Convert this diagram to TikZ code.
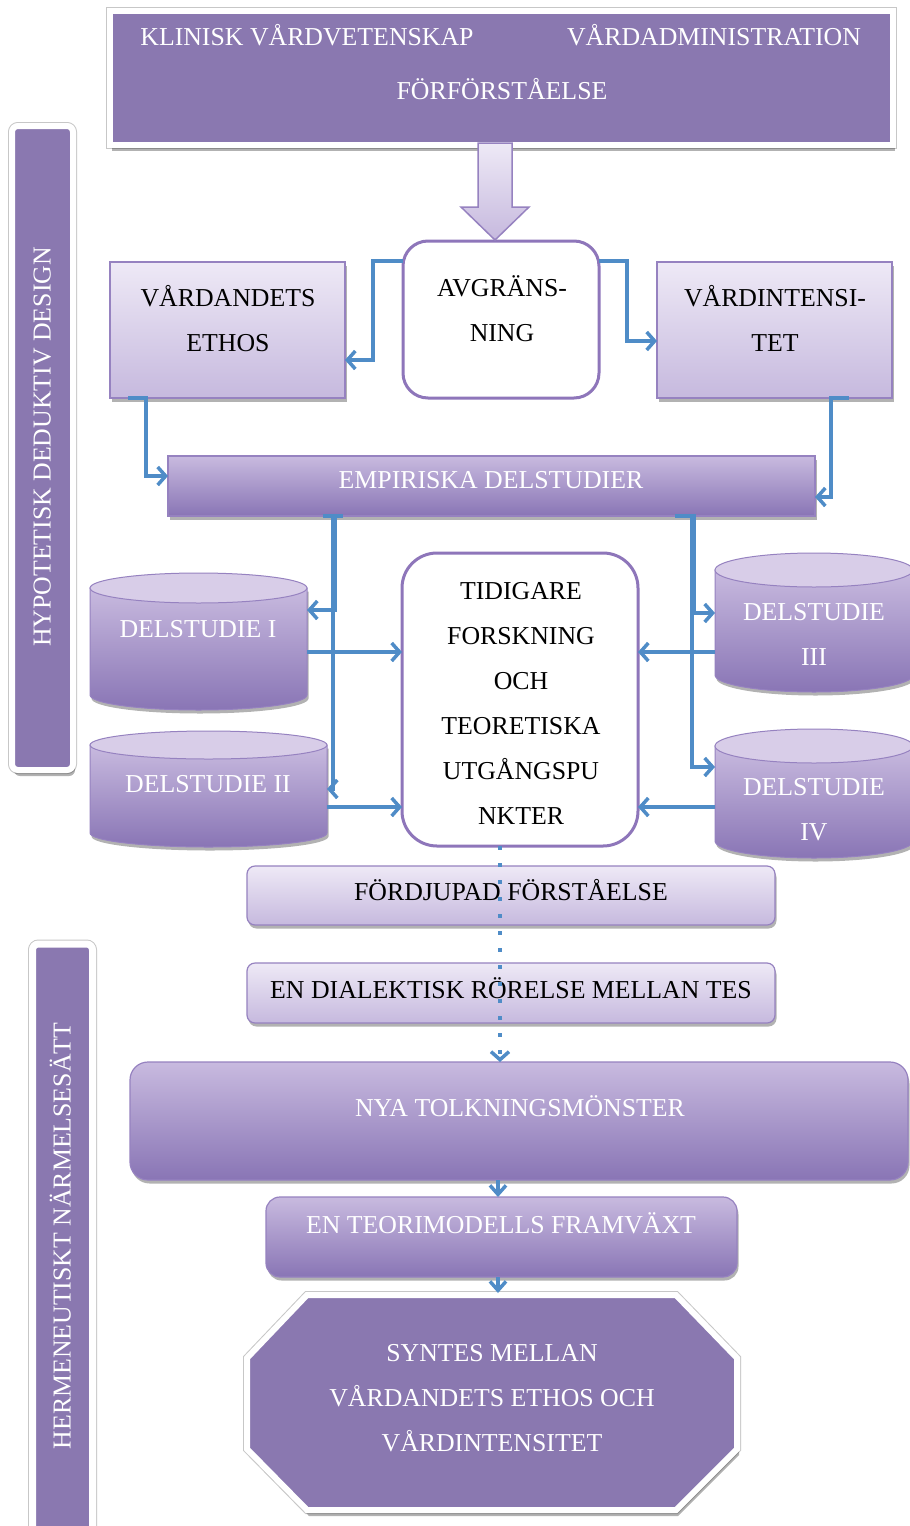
\documentclass[tikz,border=0pt]{standalone}
\usepackage{fontspec}
\setmainfont{Liberation Serif}
\usetikzlibrary{shadows,arrows.meta,calc}

\definecolor{purp}{RGB}{138,120,176}
\definecolor{lavT}{RGB}{238,233,246}
\definecolor{lavB}{RGB}{198,185,222}
\definecolor{midT}{RGB}{200,186,223}
\definecolor{midB}{RGB}{137,117,181}
\definecolor{edge}{RGB}{150,130,192}
\definecolor{edgeB}{RGB}{142,118,186}
\definecolor{capfill}{RGB}{216,205,232}
\definecolor{conblue}{RGB}{79,140,199}

\newcommand\bodyfont{\fontsize{25.8}{45}\selectfont}

% cylinder drawn over an invisible node that spans the body
\newcommand\drawdrum[3]{%
  \shade[cylbody] (#1.north west) -- (#1.south west)
    arc[start angle=180,end angle=360,x radius=#2pt,y radius=#3pt]
    -- (#1.north east) -- cycle;
  \draw[cylcap] (#1.north) ellipse[x radius=#2pt,y radius=#3pt];
}

\begin{document}
\begin{tikzpicture}[x=1pt,y=-1pt,
  every node/.style={inner sep=0pt,outer sep=0pt},
  shad/.style={drop shadow={shadow xshift=1.5pt,shadow yshift=-3.5pt,opacity=0.3,fill=black}},
  frameshad/.style={drop shadow={shadow xshift=2pt,shadow yshift=-6pt,opacity=0.3,fill=black}},
  framed/.style={preaction={draw=black!22,line width=8pt},draw=white,line width=6pt,fill=purp,frameshad},
  lightbox/.style={draw=edge,line width=1.2pt,top color=lavT,bottom color=lavB,shad},
  midbox/.style={draw=edge,line width=1.2pt,top color=midT,bottom color=midB,shad},
  whitebox/.style={draw=edgeB,line width=3pt,fill=white},
  cylbody/.style={draw=edge,line width=1pt,top color=midT,bottom color=midB,shad},
  cylcap/.style={draw=edge,line width=1pt,fill=capfill},
  conn/.style={draw=conblue,line width=3.5pt,-{Straight Barb[length=8pt,width=18pt]}},
  shortconn/.style={conn,-{Straight Barb[length=9pt,width=16pt]}},
  wtext/.style={text=white,font=\bodyfont,align=center},
  btext/.style={text=black,font=\bodyfont,align=center},
  oneline/.style={text height=17pt,text depth=0pt},
]
\useasboundingbox (0,0) rectangle (910,1526);
\fill[white] (0,0) rectangle (910,1526);

% side bars
\node[framed,rounded corners=6pt,minimum width=61,minimum height=644] (hyp) at (42.5,448) {};
\node[wtext,oneline,rotate=90] (hyp-t) at (42,447) {HYPOTETISK DEDUKTIV DESIGN};
\node[framed,preaction={draw=black!22,line width=9pt},line width=7pt,rounded corners=6pt,minimum width=60,minimum height=600] (her) at (62.5,1244) {};
\node[wtext,oneline,rotate=90] (her-t) at (62,1236) {HERMENEUTISKT NÄRMELSESÄTT};

% header
\node[framed,minimum width=783,minimum height=134] (top) at (501.5,78) {};
\node[wtext,oneline] (klin) at (307,37) {KLINISK VÅRDVETENSKAP};
\node[wtext,oneline] (adm) at (714,37) {VÅRDADMINISTRATION};
\node[wtext,oneline] (forf) at (502,91) {FÖRFÖRSTÅELSE};

% delimitation and its two branches
\node[whitebox,rounded corners=25pt,minimum width=196,minimum height=157] (avg) at (501,319.5) {};
\node[btext] (avg-t) at (502,309) {AVGRÄNS-\\NING};
\node[lightbox,minimum width=235,minimum height=136] (ethos) at (227.5,330) {};
\node[btext] (ethos-t) at (228,318.5) {VÅRDANDETS\\ETHOS};
\node[lightbox,minimum width=235,minimum height=136] (vint) at (774.5,330) {};
\node[btext] (vint-t) at (775,318.5) {VÅRDINTENSI-\\TET};

% block arrow from header down to the delimitation box
\draw[draw=edge,line width=1.5pt,top color=lavT,bottom color=lavB]
  ([xshift=-23.5pt,yshift=2pt]top.south) -- ++(34,0) -- ++(0,64) -- ++(17,0)
  -- ++(-34,33) -- ++(-34,-33) -- ++(17,0) -- cycle;

% empirical sub-studies bar
\node[midbox,minimum width=647,minimum height=60] (emp) at (491.5,486) {};
\node[wtext,oneline] (emp-t) at (491,480) {EMPIRISKA DELSTUDIER};

% earlier research
\node[whitebox,rounded corners=35pt,minimum width=236,minimum height=293] (tid) at (520,699.5) {};
\node[btext] (tid-t) at (521,703) {TIDIGARE\\FORSKNING\\OCH\\TEORETISKA\\UTGÅNGSPU\\NKTER};

% sub-study cylinders
\node[minimum width=217,minimum height=107] (d1) at (198.5,641.5) {};
\drawdrum{d1}{108.5}{15}
\node[wtext,oneline] (d1-t) at (198,629) {DELSTUDIE I};
\node[minimum width=237,minimum height=88] (d2) at (208.5,789) {};
\drawdrum{d2}{118.5}{14}
\node[wtext,oneline] (d2-t) at (208,784) {DELSTUDIE II};
\node[minimum width=198,minimum height=105] (d3) at (814,622.5) {};
\drawdrum{d3}{99}{17}
\node[wtext] (d3-t) at (814,634) {DELSTUDIE\\III};
\node[minimum width=198,minimum height=95] (d4) at (814,793.5) {};
\drawdrum{d4}{99}{17}
\node[wtext] (d4-t) at (814,810) {DELSTUDIE\\IV};

% lower chain
\node[lightbox,rounded corners=8pt,minimum width=528,minimum height=59] (ford) at (511,895.5) {};
\node[btext,oneline] (ford-t) at (511,892) {FÖRDJUPAD FÖRSTÅELSE};
\node[lightbox,rounded corners=8pt,minimum width=528,minimum height=60] (dial) at (511,993) {};
\node[btext,oneline] (dial-t) at (511,990) {EN DIALEKTISK RÖRELSE MELLAN TES};
\node[midbox,rounded corners=18pt,minimum width=778,minimum height=118] (nya) at (519,1121) {};
\node[wtext,oneline] (nya-t) at (520,1108) {NYA TOLKNINGSMÖNSTER};
\node[midbox,rounded corners=14pt,minimum width=471,minimum height=80] (teori) at (501.5,1237) {};
\node[wtext,oneline] (teori-t) at (501,1225) {EN TEORIMODELLS FRAMVÄXT};

% synthesis octagon
\path[framed] (307,1295) -- (676,1295) -- (737,1358) -- (737,1449) -- (676,1510)
  -- (307,1510) -- (247,1449) -- (247,1358) -- cycle;
\coordinate (syn-n) at (498,1293);
\node[wtext] (syn-t) at (492,1398) {SYNTES MELLAN\\VÅRDANDETS ETHOS OCH\\VÅRDINTENSITET};

% connectors
\draw[conn] ([yshift=-20pt]avg.north west) -- ++(-30,0) |- ([yshift=-30pt]ethos.east);
\draw[conn] ([yshift=-20pt]avg.north east) -- ++(28,0) |- ([yshift=-11pt]vint.west);
\draw[conn] ([xshift=18pt]ethos.south west) -- ++(18,0) |- ([yshift=10pt]emp.west);
\draw[conn] ([xshift=-43pt]vint.south east) -- ++(-18,0) |- ([yshift=-11pt]emp.east);

\draw[conn] ([xshift=155pt]emp.south west) -- ++(12,0) |- ([yshift=31.5pt]d1.east);
\draw[conn] ([xshift=175pt]emp.south west) -- ++(-10,0) |- (d2.east);
\draw[conn] ([xshift=507pt]emp.south west) -- ++(19,0) |- ([yshift=9.5pt]d3.west);
\draw[conn] ([xshift=507pt]emp.south west) -- ++(17,0) |- ([yshift=26.5pt]d4.west);

\coordinate (a1) at ([yshift=-10.5pt]d1.east);
\coordinate (a2) at ([yshift=-18pt]d2.east);
\coordinate (a3) at ([yshift=-29.5pt]d3.west);
\coordinate (a4) at ([yshift=-13.5pt]d4.west);
\draw[conn] (a1) -- (a1 -| tid.west);
\draw[conn] (a2) -- (a2 -| tid.west);
\draw[conn] (a3) -- (a3 -| tid.east);
\draw[conn] (a4) -- (a4 -| tid.east);

\draw[conn,dash pattern=on 4pt off 13pt] ([xshift=-20pt]tid.south) -- ([xshift=-19pt]nya.north);
\draw[shortconn] ([xshift=-21pt]nya.south) -- ([xshift=-3.5pt]teori.north);
\draw[shortconn] ([xshift=-3.5pt]teori.south) -- (syn-n);
\end{tikzpicture}
\end{document}
